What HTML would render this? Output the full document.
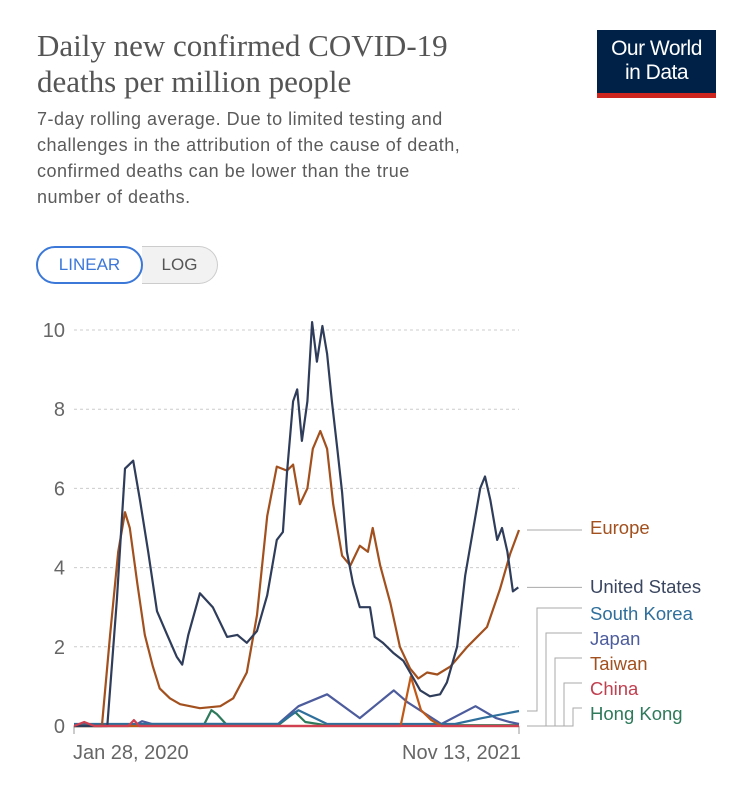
<!DOCTYPE html>
<html><head><meta charset="utf-8"><style>
body{margin:0;width:749px;height:787px;background:#fff;font-family:"Liberation Sans",sans-serif;position:relative;overflow:hidden}
.t{position:absolute;left:37px;top:28px;font-family:"Liberation Serif",serif;font-size:31px;line-height:36px;color:#555}
.s{position:absolute;left:37px;top:106px;font-size:18px;letter-spacing:0.5px;line-height:26px;color:#5b5b5b;width:440px}
.logo{position:absolute;left:597px;top:30px;width:119px;height:68px;background:#002147;color:#fff;font-size:21px;line-height:24px;text-align:center;box-sizing:border-box;padding-top:7px;border-bottom:5px solid #ce261e;letter-spacing:-0.5px}
.btn{position:absolute;top:246px;height:38px;box-sizing:border-box;font-size:17px;line-height:36px;text-align:center}
</style></head><body>
<div class="t">Daily new confirmed COVID-19<br>deaths per million people</div>
<div class="s">7-day rolling average. Due to limited testing and challenges in the attribution of the cause of death, confirmed deaths can be lower than the true number of deaths.</div>
<div class="logo">Our World<br>in Data</div>
<div class="btn" style="left:142px;width:76px;border:1px solid #ccc;border-left:none;border-radius:0 19px 19px 0;background:#f2f2f2;color:#555">LOG</div>
<div class="btn" style="left:36px;width:107px;border:2px solid #3b78d8;border-radius:19px;background:#fff;color:#3b78d8;line-height:34px">LINEAR</div>
<svg id="c" width="749" height="787" style="position:absolute;left:0;top:0"></svg>
<script>
const yTicks=[0,2,4,6,8,10];
const xTickLabels=["Jan 28, 2020","Nov 13, 2021"];
const usDays=[0,49,63,75,87,97,109,122,137,151,159,168,185,204,225,240,254,269,284,298,307,313,322,328,335,343,350,357,365,372,379,387,394,401,410,420,435,442,454,469,484,494,509,523,538,548,563,575,587,597,604,612,622,629,637,645,653];
const usVals=[0,0,3.2,6.5,6.7,5.7,4.4,2.9,2.3,1.75,1.55,2.3,3.35,3.0,2.25,2.3,2.1,2.4,3.3,4.7,4.9,6.4,8.2,8.5,7.2,8.2,10.2,9.2,10.1,9.4,8.2,7.0,5.9,4.4,3.6,3.0,3.0,2.25,2.1,1.85,1.65,1.35,0.9,0.75,0.8,1.1,2.0,3.8,5.0,6.0,6.3,5.7,4.7,5.0,4.4,3.4,3.5];
const euDays=[0,41,53,65,75,82,93,104,116,126,141,156,185,215,234,254,269,284,298,313,322,332,343,351,362,372,381,394,406,420,432,439,450,465,479,494,506,519,534,553,578,607,626,641,654];
const euVals=[0,0,2.3,4.4,5.4,5.0,3.6,2.3,1.5,0.95,0.7,0.55,0.45,0.5,0.7,1.35,2.8,5.3,6.55,6.45,6.6,5.6,6.0,7.0,7.45,7.0,5.6,4.3,4.05,4.55,4.4,5.0,4.05,3.1,2.0,1.45,1.2,1.35,1.3,1.5,2.0,2.5,3.45,4.35,4.95];
const jpDays=[0,90,100,115,300,330,372,420,470,490,540,590,620,640,654];
const jpVals=[0,0.02,0.12,0.05,0.05,0.5,0.8,0.2,0.9,0.6,0.05,0.5,0.2,0.1,0.05];
const krDays=[0,300,330,372,420,560,600,654];
const krVals=[0.05,0.05,0.4,0.05,0.05,0.05,0.2,0.38];
const twDays=[0,480,495,510,525,540,654];
const twVals=[0,0,1.25,0.4,0.15,0,0];
const hkDays=[0,190,202,210,225,300,325,340,370,654];
const hkVals=[0,0,0.4,0.3,0.02,0.02,0.35,0.1,0.02,0.02];
const cnDays=[0,15,30,80,88,96,654];
const cnVals=[0,0.1,0,0,0.15,0,0];
const series=[
 {name:"hong-kong",d:hkDays,v:hkVals,c:"#2e7a5c"},
 {name:"japan",d:jpDays,v:jpVals,c:"#4c5c9c"},
 {name:"south-korea",d:krDays,v:krVals,c:"#2f6f9c"},
 {name:"taiwan",d:twDays,v:twVals,c:"#c05917"},
 {name:"europe",d:euDays,v:euVals,c:"#a2501e"},
 {name:"united-states",d:usDays,v:usVals,c:"#2f3d5b"},
 {name:"china",d:cnDays,v:cnVals,c:"#d04050"}];
const X=d=>74+d/654*445, Y=v=>726-v*39.6;
const svg=document.getElementById('c'),NS="http://www.w3.org/2000/svg";
function mk(t,a){const e=document.createElementNS(NS,t);for(const k in a)e.setAttribute(k,a[k]);svg.appendChild(e);return e;}
yTicks.forEach(t=>{
 if(t>0){const g=mk('line',{x1:74,x2:519,y1:Y(t),y2:Y(t),stroke:'#ccc','stroke-dasharray':'3,3'});
 
 }
 const l=mk('text',{x:65,y:Y(t)+7,'text-anchor':'end','font-size':20,fill:'#666','font-family':'Liberation Sans'});l.textContent=t;
 
 
});
const ax=mk('line',{x1:74,x2:519,y1:726.5,y2:726.5,stroke:'#999'});


[[0,'start'],[654,'end']].forEach((p,i)=>{
 mk('line',{x1:X(p[0]),x2:X(p[0]),y1:726,y2:734,stroke:'#999'});
 const l=mk('text',{x:i?X(p[0])+2:X(p[0])-1,y:759,'text-anchor':p[1],'font-size':20,fill:'#666','font-family':'Liberation Sans'});l.textContent=xTickLabels[i];
 
 
});
series.forEach(s=>{
 const p=mk('path',{d:s.d.map((d,i)=>(i?'L':'M')+X(d).toFixed(1)+','+Y(s.v[i]).toFixed(1)).join(''),fill:'none',stroke:s.c,'stroke-width':2.2,'stroke-linejoin':'round'});
 
 
});
const leg=[["Europe","#a2501e",528,Y(4.95)],["United States","#3a4660",587,Y(3.5)],["South Korea","#2f6f9c",614,Y(0.38)],["Japan","#4c5c9c",639,726],["Taiwan","#a2501e",664,726],["China","#c04050",689,726],["Hong Kong","#2e7a5c",714,726]];
leg.forEach((e,i)=>{
 let d;
 if(i<2)d=`M527,${e[3]}H582`;
 else{const xv=[537,546,555,564,573][i-2];d=`M527,${i==2?e[3]:726}H${xv}V${e[2]-6}H582`;}
 mk('path',{d:d,fill:'none',stroke:'#aaa','stroke-width':1});
 const t=mk('text',{x:590,y:e[2]+6,'font-size':18.5,fill:e[1],'font-family':'Liberation Sans'});t.textContent=e[0];
 
 
});
</script>
</body></html>
